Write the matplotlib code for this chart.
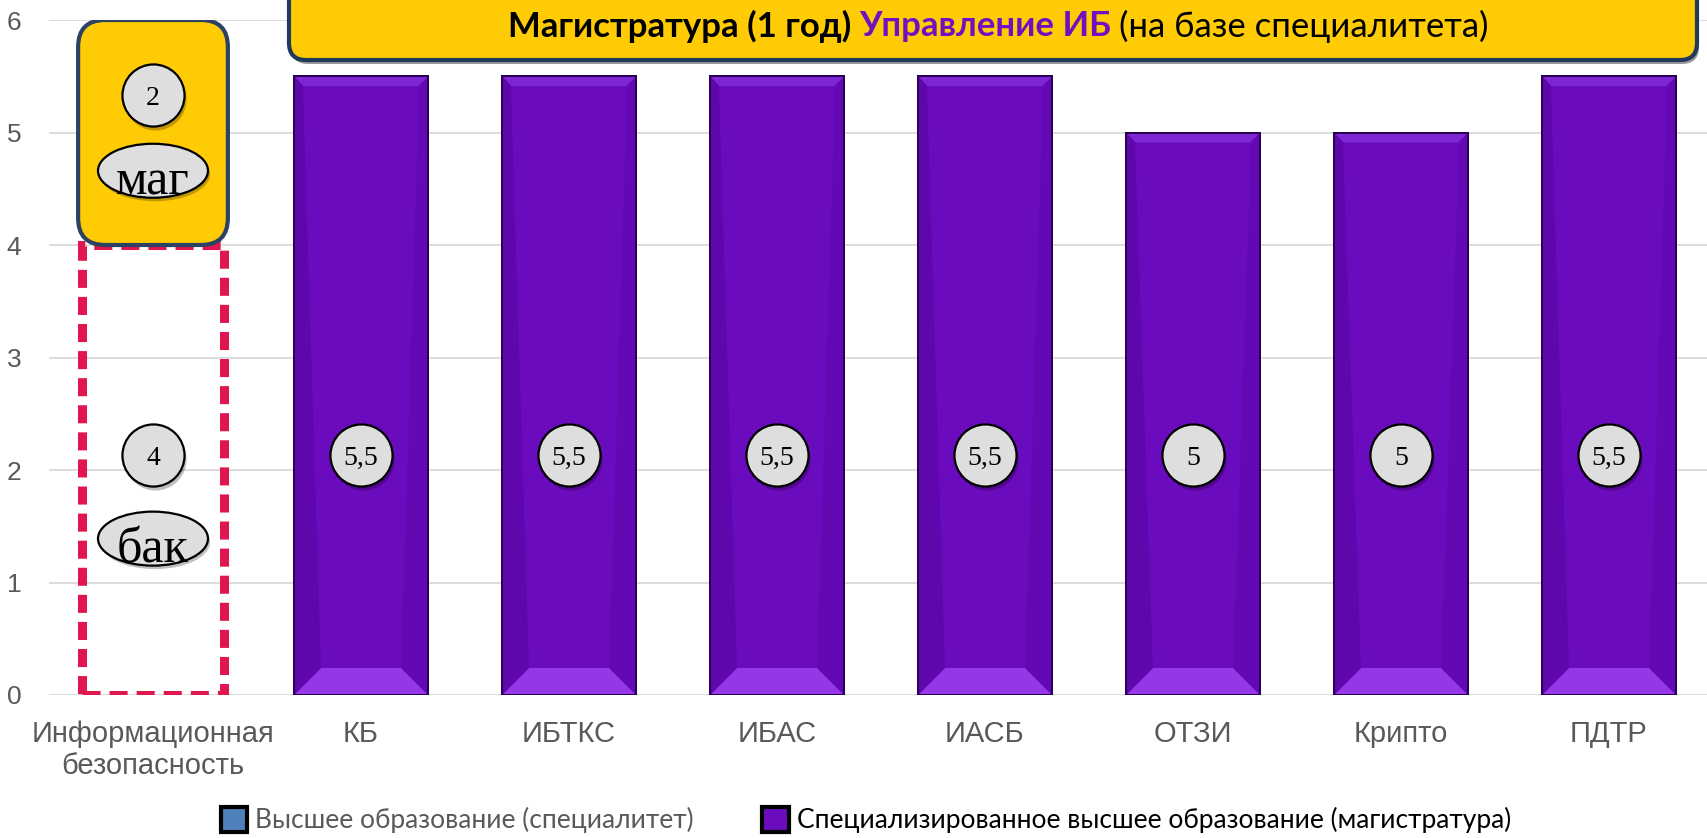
import matplotlib
matplotlib.use("Agg")
import matplotlib.pyplot as plt
import matplotlib.transforms as mtransforms
from matplotlib.patches import FancyBboxPatch, Patch, Polygon, Ellipse
import numpy as np

categories = ["Информационная\nбезопасность", "КБ", "ИБТКС", "ИБАС", "ИАСБ", "ОТЗИ", "Крипто", "ПДТР"]
series_names = ["Высшее образование (специалитет)",
                "Специализированное высшее образование (магистратура)"]
spec_values = [4, 0, 0, 0, 0, 0, 0, 0]
mag_values = [2, 5.5, 5.5, 5.5, 5.5, 5, 5, 5.5]
spec_labels = ["4", "", "", "", "", "", "", ""]
mag_labels = ["2", "5,5", "5,5", "5,5", "5,5", "5", "5", "5,5"]
level_labels = ["бак", "маг"]
title_parts = ["Магистратура (1 год)", "Управление ИБ", "(на базе специалитета)"]

W, H = 1708, 838
PURPLE = "#6A0BBE"

fig = plt.figure(figsize=(W / 100, H / 100), dpi=100)
ax = fig.add_axes([49 / W, 1 - 695 / H, 1664 / W, 675 / H])
x = np.arange(len(categories))
ax.set_xlim(-0.5, len(categories) - 0.5)
ax.set_ylim(0, 6)

for s in ax.spines.values():
    s.set_visible(False)
ax.set_yticks(range(7))
ax.yaxis.grid(True, color="#D9D9D9", linewidth=1.3)
ax.set_axisbelow(True)
ax.tick_params(axis="y", length=0, labelsize=19, labelcolor="#595959", pad=20)
ax.tick_params(axis="x", length=0, labelsize=21, labelcolor="#595959", pad=18)
ax.set_xticks(x)
ax.set_xticklabels(categories, family="Liberation Sans", linespacing=1.2)
for lab in ax.get_yticklabels():
    lab.set_family("Liberation Sans")

# purple bars with bevel
bw = 0.645
px_x = 1664 / len(categories)   # pixels per x unit
px_y = 675 / 6                  # pixels per y unit
bars = ax.bar(x[1:], mag_values[1:], width=bw, color=PURPLE, edgecolor="#2A0052",
              linewidth=1.2, zorder=2)
for b in bars:
    x0, w, h = b.get_x(), b.get_width(), b.get_height()
    bx, by = 27 / px_x, 27 / px_y
    tx, ty = 10 / px_x, 10 / px_y
    sx = 9 / px_x
    ax.add_patch(Polygon([(x0, 0), (x0 + w, 0), (x0 + w - bx, by), (x0 + bx, by)],
                         closed=True, fc="#9437E6", ec="none", zorder=2.1))
    ax.add_patch(Polygon([(x0, h), (x0 + w, h), (x0 + w - tx, h - ty), (x0 + tx, h - ty)],
                         closed=True, fc="#7E26D2", ec="none", zorder=2.1))
    ax.add_patch(Polygon([(x0, 0), (x0 + bx, by), (x0 + sx, h - ty), (x0, h)],
                         closed=True, fc="#5E07AC", ec="none", zorder=2.1))
    ax.add_patch(Polygon([(x0 + w, 0), (x0 + w - bx, by), (x0 + w - sx, h - ty), (x0 + w, h)],
                         closed=True, fc="#6309B4", ec="none", zorder=2.1))
    ax.add_patch(plt.Rectangle((x0, 0), w, h, fill=False, ec="#2A0052", lw=1.4, zorder=2.2))

# first column: dashed bottom part and yellow rounded top part
ax.bar(x[0], spec_values[0], width=0.68, fill=False, edgecolor="#E0174F",
       linewidth=6.5, linestyle=(0, (2.0, 1.0)), zorder=2)
yw = 0.72
ax.add_patch(FancyBboxPatch((x[0] - yw / 2, spec_values[0]), yw, mag_values[0],
                            boxstyle="round,pad=0,rounding_size=0.13",
                            mutation_aspect=px_x / px_y,
                            fc="#FFCB05", ec="#2B4263", lw=3.0, zorder=3))


def badge(xc, yc, text):
    sh = mtransforms.offset_copy(ax.transData, fig=fig, x=1.5, y=-2.5, units="points")
    ax.scatter([xc], [yc], s=2000, color="black", alpha=0.25, linewidths=0,
               transform=sh, zorder=4)
    ax.scatter([xc], [yc], s=2000, facecolor="#DEDEDE", edgecolor="black",
               linewidths=1.6, zorder=5)
    ax.text(xc, yc, text, ha="center", va="center_baseline", fontsize=20,
            family="Liberation Serif", zorder=6)


def oval(xc, yc, text):
    ew, eh = 110 / px_x, 54 / px_y
    sh = mtransforms.offset_copy(ax.transData, fig=fig, x=1.5, y=-2.5, units="points")
    ax.add_patch(Ellipse((xc, yc), ew, eh, fc="black", alpha=0.25, ec="none",
                         transform=sh, zorder=4))
    ax.add_patch(Ellipse((xc, yc), ew, eh, fc="#DEDEDE", ec="black", lw=1.6, zorder=5))
    ax.text(xc, yc - 0.05, text, ha="center", va="center_baseline", fontsize=36,
            family="Liberation Serif", zorder=6)


label_y = 2.13
for xi, lab in zip(x[1:], mag_labels[1:]):
    badge(xi, label_y, lab)
badge(x[0], label_y, spec_labels[0])
oval(x[0], 1.39, level_labels[0])
badge(x[0], 5.33, mag_labels[0])
oval(x[0], 4.66, level_labels[1])

# title banner
bx0, bx1 = 289 / W, 1697 / W
by0 = 1 - 60 / H
shadow = FancyBboxPatch((bx0 + 2 / W, by0 - 4 / H), bx1 - bx0, 0.2,
                        boxstyle="round,pad=0,rounding_size=0.01", mutation_aspect=W / H,
                        transform=fig.transFigure, fc="#555555", ec="none", alpha=0.6)
fig.add_artist(shadow)
banner = FancyBboxPatch((bx0, by0), bx1 - bx0, 0.2,
                        boxstyle="round,pad=0,rounding_size=0.01", mutation_aspect=W / H,
                        transform=fig.transFigure, fc="#FFCB05", ec="#1F3A5A", lw=3.0)
fig.add_artist(banner)

ty = 1 - 26 / H
styles = [dict(color="black", fontweight="bold"),
          dict(color="#7010C0", fontweight="bold"),
          dict(color="black", fontweight="normal")]
parts = [fig.text(0, ty, p, fontsize=25, family="Lato", va="center", ha="left", **st)
         for p, st in zip(title_parts, styles)]
fig.canvas.draw()
r = fig.canvas.get_renderer()
widths = [t.get_window_extent(r).width for t in parts]
gap = 8
xs = 998 - (sum(widths) + gap * (len(parts) - 1)) / 2
for t, wd in zip(parts, widths):
    t.set_x(xs / W)
    xs += wd + gap

handles = [Patch(facecolor="#4F81BD", edgecolor="black", linewidth=3),
           Patch(facecolor=PURPLE, edgecolor="black", linewidth=3)]
leg = fig.legend(handles, series_names, loc="center", bbox_to_anchor=(866 / W, 18 / H),
                 ncol=2, frameon=False, handlelength=1.0, handleheight=1.1,
                 handletextpad=0.3, columnspacing=2.6,
                 prop={"family": "Lato", "size": 19})
leg.get_texts()[0].set_color("#595959")
leg.get_texts()[1].set_color("black")

fig.savefig("out.png", dpi=100)
